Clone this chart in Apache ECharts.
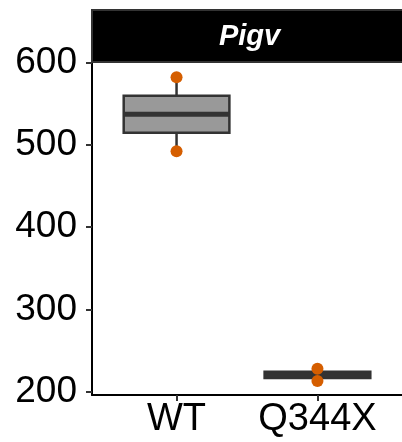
<!DOCTYPE html>
<html>
<head>
<meta charset="utf-8">
<script src="https://cdn.jsdelivr.net/npm/echarts@6/dist/echarts.min.js"></script>
<style>html,body{margin:0;padding:0;background:#fff;}#c{width:402px;height:442px;}</style>
</head>
<body>
<div id="c"></div>
<script>
// ---- data ----
const panelTitle = 'Pigv';
const categories = ['WT', 'Q344X'];
const wtPoints = [582, 492];
const q344xPoints = [228, 213];
const yTicks = [200, 300, 400, 500, 600];

const groups = [wtPoints, q344xPoints];

// quantile (R type 7)
function quantile(arr, p) {
  const s = arr.slice().sort((a, b) => a - b);
  const h = (s.length - 1) * p;
  const lo = Math.floor(h), hi = Math.ceil(h);
  return s[lo] + (h - lo) * (s[hi] - s[lo]);
}
const boxData = groups.map((pts, i) => [
  i + 0.6,
  Math.min(...pts), quantile(pts, 0.25), quantile(pts, 0.5), quantile(pts, 0.75), Math.max(...pts)
]);
const pointData = [];
groups.forEach((pts, i) => pts.forEach(v => pointData.push([i + 0.6, v])));

// ---- layout ----
const GL = 92, GT = 62, GW = 315, GH = 333;
const FONT = '"Liberation Sans", Arial, Helvetica, sans-serif';

const chart = echarts.init(document.getElementById('c'), null, { renderer: 'canvas' });
chart.setOption({
  animation: false,
  backgroundColor: '#ffffff',
  grid: { left: GL, top: GT, width: GW, height: GH, containLabel: false },
  xAxis: {
    type: 'value', min: 0, max: 2.2,
    axisLine: { show: true, onZero: false, lineStyle: { color: '#000', width: 2 } },
    axisTick: { show: true, length: 6, customValues: categories.map((c, i) => i + 0.6), lineStyle: { color: '#333', width: 2 } },
    axisLabel: {
      show: true, customValues: categories.map((c, i) => i + 0.6),
      formatter: v => categories[Math.round(v - 0.6)],
      color: '#000', fontSize: 38, fontFamily: FONT, margin: 6
    },
    splitLine: { show: false }
  },
  yAxis: {
    type: 'value', min: 196, max: 600.5,
    axisLine: { show: true, onZero: false, lineStyle: { color: '#000', width: 2 } },
    axisTick: { show: true, length: 6, customValues: yTicks, lineStyle: { color: '#333', width: 2 } },
    axisLabel: { show: true, customValues: yTicks, color: '#000', fontSize: 37, fontFamily: FONT, margin: 15 },
    splitLine: { show: false }
  },
  graphic: [
    { type: 'rect', z: 10, shape: { x: GL, y: 10, width: GW, height: GT - 10 },
      style: { fill: '#000', stroke: '#333', lineWidth: 2 } },
    { type: 'text', z: 11, x: GL + GW / 2, y: 37,
      style: { text: panelTitle, fill: '#fff', font: 'italic bold 29px ' + FONT, align: 'center', verticalAlign: 'middle' } }
  ],
  series: [
    {
      type: 'custom',
      data: boxData,
      encode: { x: 0, y: [1, 2, 3, 4, 5] },
      z: 2,
      renderItem: function (params, api) {
        const x = api.value(0);
        const hw = 0.375;
        const c = api.coord([x, api.value(3)]);
        const pMin = api.coord([x, api.value(1)]);
        const pMax = api.coord([x, api.value(5)]);
        const tl = api.coord([x - hw, api.value(4)]);
        const br = api.coord([x + hw, api.value(2)]);
        const med = api.coord([x - hw, api.value(3)]);
        const medR = api.coord([x + hw, api.value(3)]);
        const st = { stroke: '#333', lineWidth: 2.5 };
        return {
          type: 'group',
          children: [
            { type: 'line', shape: { x1: c[0], y1: pMax[1], x2: c[0], y2: tl[1] }, style: st },
            { type: 'line', shape: { x1: c[0], y1: br[1], x2: c[0], y2: pMin[1] }, style: st },
            { type: 'rect', shape: { x: tl[0], y: tl[1], width: br[0] - tl[0], height: br[1] - tl[1] },
              style: { fill: '#999999', stroke: '#333', lineWidth: 2.5 } },
            { type: 'line', shape: { x1: med[0], y1: med[1], x2: medR[0], y2: medR[1] },
              style: { stroke: '#333', lineWidth: 5 } }
          ]
        };
      }
    },
    {
      type: 'scatter',
      data: pointData,
      z: 5,
      symbol: 'circle',
      symbolSize: 12,
      itemStyle: { color: '#D55E00', opacity: 1 }
    }
  ]
});
</script>
</body>
</html>
